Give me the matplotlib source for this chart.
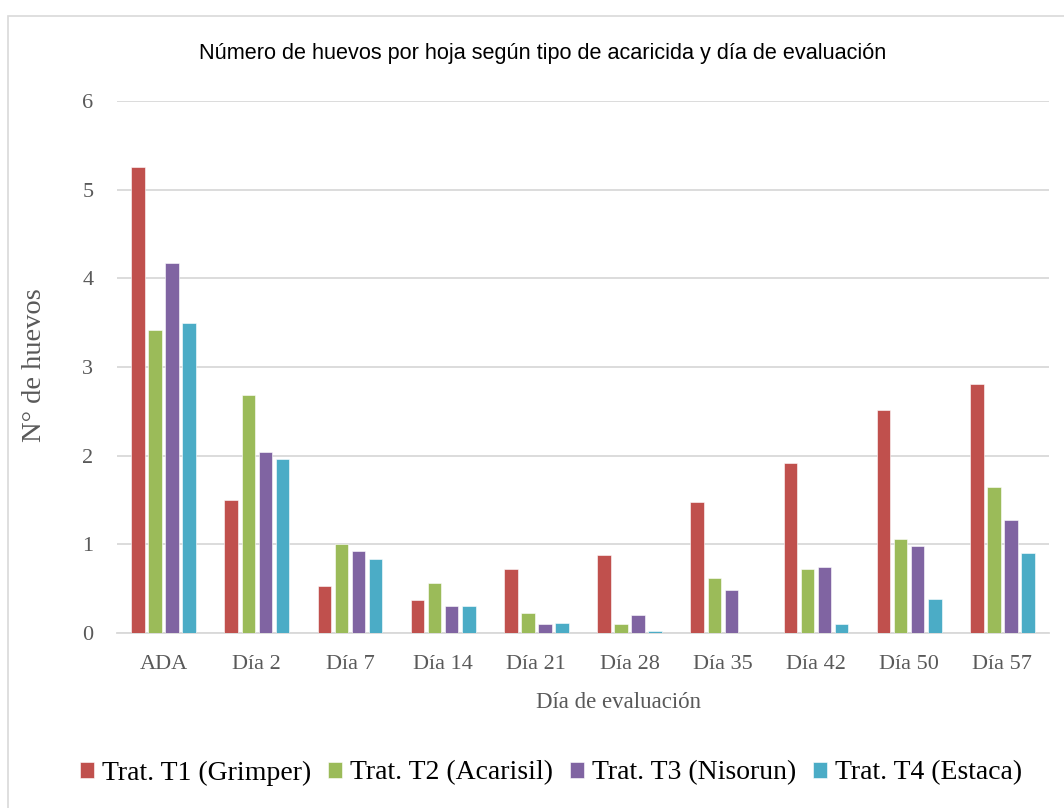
import matplotlib
matplotlib.use("Agg")
import matplotlib.pyplot as plt
import numpy as np
from matplotlib.patches import Rectangle

categories = ["ADA", "Día 2", "Día 7", "Día 14", "Día 21", "Día 28", "Día 35", "Día 42", "Día 50", "Día 57"]
series_names = ["Trat. T1 (Grimper)", "Trat. T2 (Acarisil)", "Trat. T3 (Nisorun)", "Trat. T4 (Estaca)"]
t1 = [5.26, 1.50, 0.53, 0.37, 0.72, 0.88, 1.48, 1.92, 2.52, 2.81]
t2 = [3.42, 2.68, 1.00, 0.56, 0.23, 0.10, 0.62, 0.72, 1.06, 1.65]
t3 = [4.17, 2.04, 0.93, 0.30, 0.10, 0.20, 0.48, 0.74, 0.98, 1.27]
t4 = [3.50, 1.96, 0.83, 0.31, 0.11, 0.02, 0.00, 0.10, 0.38, 0.90]
colors = ["#C0504D", "#9BBB59", "#8064A2", "#4BACC6"]
yticks = [0, 1, 2, 3, 4, 5, 6]

W, H = 1064, 808
fig = plt.figure(figsize=(W / 100, H / 100), dpi=100)
fig.patch.set_facecolor("white")
# outer chart border
fig.patches.append(Rectangle((8 / W, 0 - 0.01), 1.1, (H - 16) / H + 0.01, transform=fig.transFigure,
                             fill=False, edgecolor="#D9D9D9", linewidth=1.2))

ax = fig.add_axes([117 / W, (H - 633) / H, (1049 - 117) / W, (633 - 101) / H])
x = np.arange(len(categories))
slot = 0.183
bw = 0.145
for i, (vals, c, name) in enumerate(zip([t1, t2, t3, t4], colors, series_names)):
    ax.bar(x + (i - 1.5) * slot, vals, width=bw, color=c, label=name, zorder=3,
           edgecolor="white", linewidth=0.4)

ax.set_xlim(-0.5, len(categories) - 0.5)
ax.set_ylim(0, 6)
ax.set_yticks(yticks)
ax.set_xticks(x)
ax.set_xticklabels(categories)
ax.grid(axis="y", color="#D9D9D9", linewidth=1.3, zorder=0)
for s in ["top", "right", "left"]:
    ax.spines[s].set_visible(False)
ax.spines["bottom"].set_color("#D9D9D9")
ax.spines["bottom"].set_linewidth(1.3)
ax.tick_params(axis="both", length=0, labelsize=16, labelcolor="#595959")
for lab in ax.get_xticklabels() + ax.get_yticklabels():
    lab.set_family("Liberation Serif")
ax.tick_params(axis="y", pad=17)
ax.tick_params(axis="x", pad=16)

fig.text(35 / W, 1 - 365 / H, "N° de huevos", rotation=90, ha="center", va="center",
         fontsize=20.5, color="#595959", family="Liberation Serif")
fig.text(619 / W, 1 - 703 / H, "Día de evaluación", ha="center", va="center",
         fontsize=16.5, color="#595959", family="Liberation Serif")

fig.text(543 / W, 1 - 54 / H, "Número de huevos por hoja según tipo de acaricida y día de evaluación",
         ha="center", va="center", fontsize=15.6, family="Liberation Sans", color="black")

handles, labels = ax.get_legend_handles_labels()
leg = fig.legend(handles, labels, loc="center", bbox_to_anchor=(551 / W, 1 - 773 / H), ncol=4,
                 frameon=False, prop={"family": "Liberation Serif", "size": 20},
                 handlelength=0.5, handleheight=0.5, handletextpad=0.3, columnspacing=0.6)
for t in leg.get_texts():
    t.set_color("black")

fig.savefig("out.png", dpi=100, facecolor="white")
